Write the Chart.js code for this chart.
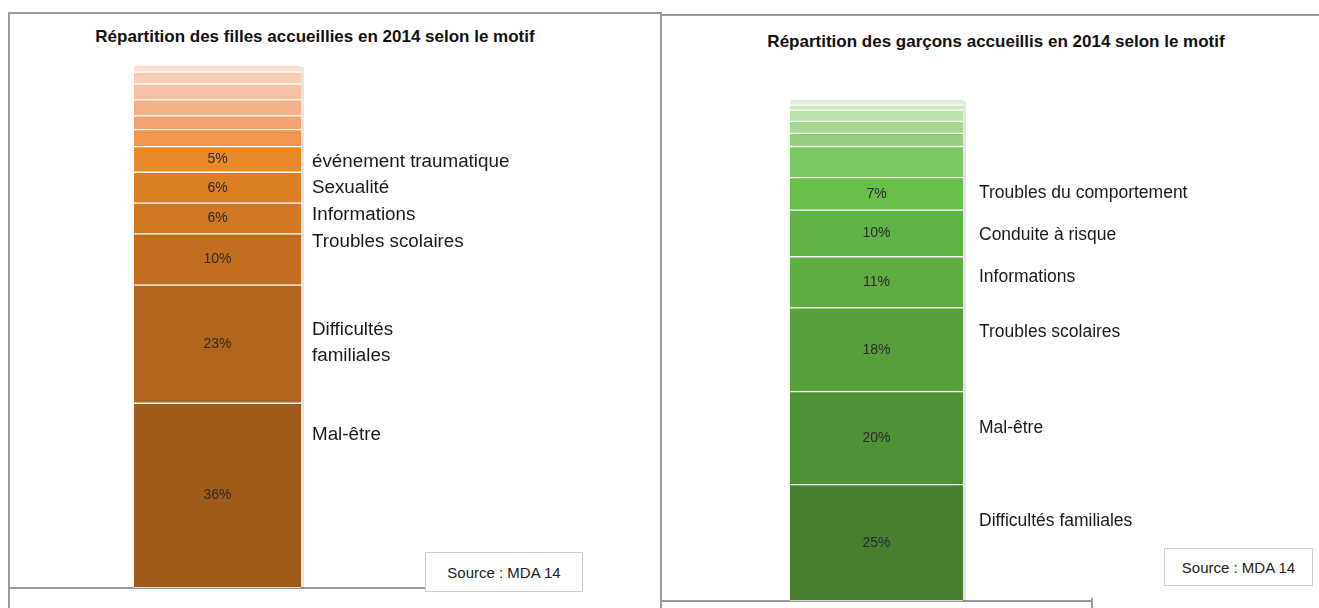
<!DOCTYPE html>
<html lang="fr">
<head>
<meta charset="UTF-8">
<title>Répartition des jeunes accueillis en 2014 selon le motif</title>
<script src="https://cdn.jsdelivr.net/npm/chart.js@4.4.0/dist/chart.umd.min.js"></script>
<style>
    html, body { margin: 0; padding: 0; background: #fff; }
    body { width: 1319px; height: 608px; position: relative; overflow: hidden; font-family: "Liberation Sans", Arial, sans-serif; }
    .line { position: absolute; background: #9a9a9a; }
    .titre {
        position: absolute; font-family: "Liberation Sans Narrow", "Liberation Sans", Arial, sans-serif;
        font-weight: bold; font-size: 17px; color: #111; white-space: nowrap;
        transform: translate(-50%, -50%);
    }
    .source {
        position: absolute; background: #fff; border: 1px solid #cfcfcf;
        font-family: "Liberation Sans Narrow", "Liberation Sans", Arial, sans-serif;
        font-size: 15px; color: #222; display: flex; align-items: center; justify-content: center;
        box-sizing: border-box;
    }
    canvas { position: absolute; top: 0; }
</style>
</head>
<body>
<!-- cadres -->
<div class="line" style="left:8px; top:12px; width:654px; height:2px;"></div>
<div class="line" style="left:8px; top:12px; width:2px; height:600px;"></div>
<div class="line" style="left:660px; top:12px; width:2px; height:600px;"></div>
<div class="line" style="left:8px; top:587px; width:420px; height:2px;"></div>
<div class="line" style="left:660px; top:14px; width:660px; height:2px;"></div>
<div class="line" style="left:660px; top:600px; width:432px; height:2px;"></div>
<div class="line" style="left:1091px; top:598px; width:2px; height:10px;"></div>

<div class="titre" style="left:315px; top:37px;">Répartition des filles accueillies en 2014 selon le motif</div>
<div class="titre" style="left:996px; top:42px;">Répartition des garçons accueillis en 2014 selon le motif</div>

<canvas id="graphFilles" width="661" height="608" style="left:0;"></canvas>
<canvas id="graphGarcons" width="658" height="608" style="left:661px;"></canvas>

<div class="source" style="left:425px; top:552px; width:158px; height:40px;">Source : MDA 14</div>
<div class="source" style="left:1164px; top:548px; width:149px; height:38px;">Source : MDA 14</div>

<script>
    // Filles (de bas en haut)
    const filleMotifs = ['Mal-être', 'Difficultés\nfamiliales', 'Troubles scolaires', 'Informations', 'Sexualité', 'événement traumatique', '', '', '', '', '', ''];
    const fillePourcent = [36, 23, 10, 6, 6, 5, 3.3, 2.7, 3.1, 3.1, 2.3, 1.4];
    const filleCouleurs = ['#a05a19', '#b2651c', '#c26e1f', '#d07822', '#dc7f24', '#e88a2b', '#f0974f', '#f2a36f', '#f4b087', '#f6c0a2', '#f8cdb7', '#fadfd1'];
    const filleEtiquetteA = [29.8, 47.7, 67.4, 72.7, 77.9, 83.0];

    // Garçons (de bas en haut)
    const garconMotifs = ['Difficultés familiales', 'Mal-être', 'Troubles scolaires', 'Informations', 'Conduite à risque', 'Troubles du comportement', '', '', '', '', '', ''];
    const garconPourcent = [25, 20, 18, 11, 10, 7, 6.7, 2.8, 2.6, 2.4, 1.1, 1.3];
    const garconCouleurs = ['#467f30', '#4f9236', '#57a03c', '#5eac42', '#62b347', '#6abe4c', '#7dc863', '#93d07e', '#a7d994', '#bbe1ab', '#cde9c2', '#ddefd5'];
    const garconEtiquetteA = [17.2, 37.2, 57.8, 69.6, 78.7, 87.7];

    const etiquettesPlugin = {
        id: 'etiquettes',
        beforeDatasetsDraw(chart) {
            const a = chart.chartArea, ctx = chart.ctx;
            ctx.save();
            ctx.fillStyle = 'rgba(0,0,0,0.10)';
            ctx.fillRect(a.right, a.top + 2, 3, a.bottom - a.top - 2);
            ctx.restore();
        },
        afterDatasetsDraw(chart, args, opts) {
            const ctx = chart.ctx, y = chart.scales.y, a = chart.chartArea;
            ctx.save();
            ctx.textBaseline = 'middle';
            chart.data.datasets.forEach((ds, i) => {
                if (!opts.motifs[i]) return;
                const bar = chart.getDatasetMeta(i).data[0];
                ctx.font = '14px "Liberation Sans", Arial, sans-serif';
                ctx.fillStyle = '#2a2a2a';
                ctx.textAlign = 'center';
                ctx.fillText(ds.data[0] + '%', bar.x, (bar.y + bar.base) / 2);
                ctx.font = opts.taille + 'px "Liberation Sans", Arial, sans-serif';
                ctx.fillStyle = '#1a1a1a';
                ctx.textAlign = 'left';
                const lignes = opts.motifs[i].split('\n');
                const yc = y.getPixelForValue(opts.positions[i]);
                lignes.forEach((l, k) => {
                    ctx.fillText(l, a.right + opts.decalage, yc + (k - (lignes.length - 1) / 2) * 26);
                });
            });
            ctx.restore();
        }
    };

    function creerGraphique(id, motifs, valeurs, couleurs, positions, padding, decalage, taille) {
        const total = valeurs.reduce((s, v) => s + v, 0);
        new Chart(document.getElementById(id), {
            type: 'bar',
            data: {
                labels: [''],
                datasets: valeurs.map((v, i) => ({
                    label: motifs[i],
                    data: [v],
                    backgroundColor: couleurs[i],
                    borderColor: '#ffffff',
                    borderWidth: { top: 1, bottom: 1, left: 0, right: 0 },
                    borderSkipped: false,
                    categoryPercentage: 1,
                    barPercentage: 1
                }))
            },
            options: {
                responsive: false,
                animation: false,
                layout: { padding: padding },
                plugins: {
                    legend: { display: false },
                    tooltip: { enabled: false },
                    etiquettes: { motifs: motifs, positions: positions, decalage: decalage, taille: taille }
                },
                scales: {
                    x: { stacked: true, display: false },
                    y: { stacked: true, display: false, min: 0, max: total }
                }
            },
            plugins: [etiquettesPlugin]
        });
    }

    creerGraphique('graphFilles', filleMotifs, fillePourcent, filleCouleurs, filleEtiquetteA,
        { left: 134, right: 360, top: 65, bottom: 20 }, 11, 18.8);
    creerGraphique('graphGarcons', garconMotifs, garconPourcent, garconCouleurs, garconEtiquetteA,
        { left: 129, right: 356, top: 99, bottom: 7 }, 16, 17.5);
</script>
</body>
</html>
